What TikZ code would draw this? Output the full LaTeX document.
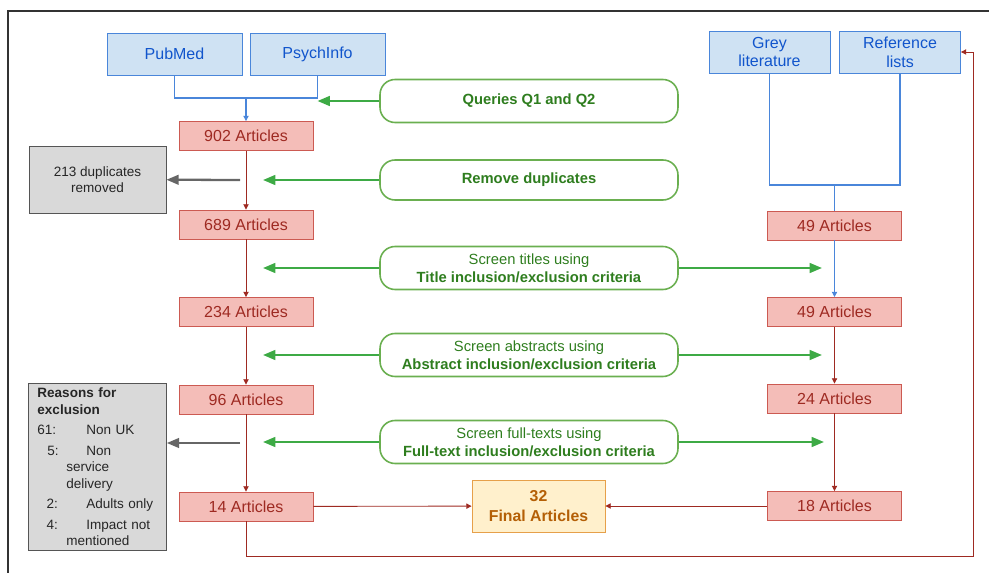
\documentclass[tikz,border=0pt]{standalone}
\usepackage{fontspec}
\setmainfont{Liberation Sans}
\usetikzlibrary{positioning}
\usetikzlibrary{arrows.meta}

\definecolor{srcfill}{HTML}{CFE2F3}
\definecolor{srcline}{HTML}{4A86DA}
\definecolor{srctext}{HTML}{1155CC}
\definecolor{artfill}{HTML}{F4BDB8}
\definecolor{artline}{HTML}{CC5A52}
\definecolor{arttext}{HTML}{9E2A22}
\definecolor{steptext}{HTML}{2E7D1E}
\definecolor{stepline}{HTML}{6AAF50}
\definecolor{steparrow}{HTML}{3DAA45}
\definecolor{outfill}{HTML}{D9D9D9}
\definecolor{outline}{HTML}{555555}
\definecolor{outarrow}{HTML}{666666}
\definecolor{finalfill}{HTML}{FFF0CC}
\definecolor{finalline}{HTML}{E6A04A}
\definecolor{finaltext}{HTML}{B45F06}

\tikzset{
  srcbox/.style={draw=srcline, fill=srcfill, text=srctext, line width=0.5pt,
    minimum width=2.7cm, minimum height=0.84cm, inner sep=0pt, align=center,
    font=\fontsize{9.1}{10.6}\selectfont},
  artbox/.style={draw=artline, fill=artfill, text=arttext, line width=0.5pt,
    minimum width=2.68cm, minimum height=0.58cm, inner sep=0pt,
    font=\fontsize{9.1}{11}\selectfont},
  stepbox/.style={draw=stepline, text=steptext, line width=0.9pt, rounded corners=0.3cm,
    minimum width=5.96cm, minimum height=0.86cm, inner sep=0pt, align=center,
    font=\fontsize{8.4}{10.2}\selectfont},
  outbox/.style={draw=outline, fill=outfill, text=black!85, line width=0.5pt,
    inner sep=0pt, align=center, font=\fontsize{7.7}{9.4}\selectfont},
  finalbox/.style={draw=finalline, fill=finalfill, text=finaltext, line width=0.5pt,
    minimum width=2.66cm, minimum height=1.04cm, inner sep=0pt, align=center,
    font=\bfseries\fontsize{9}{11}\selectfont},
  flow/.style={draw=arttext, line width=0.5pt, -{Triangle[length=3pt,width=3pt]}},
  srcflow/.style={draw=srcline, line width=0.6pt},
  stepflow/.style={draw=steparrow, line width=1.3pt, -{Triangle[length=7pt,width=5.5pt]}},
  outflow/.style={draw=outarrow, line width=1.3pt, -{Triangle[length=7pt,width=5.5pt]}}
}

\begin{document}
\begin{tikzpicture}[x=0.02cm, y=-0.02cm]
  \useasboundingbox (0,0) rectangle (989,573);
  \draw[black!80, line width=1.1pt] (8,573) -- (8,11) -- (989,11);

  % sources
  \node[srcbox] (pubmed) at (174.5,54) {PubMed};
  \node[srcbox] (psych) at (317.5,54) {PsychInfo};
  \node[srcbox, minimum width=2.42cm] (grey) at (769.5,52) {Grey\\literature};
  \node[srcbox, minimum width=2.42cm] (refs) at (900,52) {Reference\\lists};

  % steps
  \node[stepbox] (query) at (529,101) {\textbf{Queries Q1 and Q2}};
  \node[stepbox, minimum height=0.8cm] (dedup) at (529,180) {\textbf{Remove duplicates}};
  \node[stepbox] (title) at (529,268) {Screen titles using\\\textbf{Title inclusion/exclusion criteria}};
  \node[stepbox] (abstract) at (529,355) {Screen abstracts using\\\textbf{Abstract inclusion/exclusion criteria}};
  \node[stepbox] (fulltext) at (529,442) {Screen full-texts using\\\textbf{Full-text inclusion/exclusion criteria}};

  % left column
  \node[artbox] (a902) at (246,136) {902 Articles};
  \node[artbox] (a689) at (246,224.5) {689 Articles};
  \node[artbox] (a234) at (246,312) {234 Articles};
  \node[artbox] (a96) at (246,399.5) {96 Articles};
  \node[artbox] (a14) at (246,506.5) {14 Articles};

  % right column
  \node[artbox] (b49) at (834.5,225.5) {49 Articles};
  \node[artbox] (c49) at (834.5,312) {49 Articles};
  \node[artbox] (b24) at (834.5,398.5) {24 Articles};
  \node[artbox] (b18) at (834.5,506) {18 Articles};

  \node[finalbox] (final) at (538.5,506) {32\\Final Articles};

  % excluded
  \node[outbox, minimum width=2.74cm, minimum height=1.34cm] (dupout) at (97.5,179.5) {213 duplicates\\removed};
  \node[outbox, anchor=north west, minimum width=2.76cm, minimum height=3.34cm,
    inner xsep=0.18cm, text width=2.4cm, align=left] (reasons) at (28,383) {%
    \textbf{Reasons for}\\
    \textbf{exclusion}\\[2.2pt]
    \makebox[27.8pt][l]{61:}Non UK\\[2.2pt]
    \hspace*{5.7pt}\makebox[22.1pt][l]{5:}Non\\
    \hspace*{16.4pt}service\\
    \hspace*{16.4pt}delivery\\[2.2pt]
    \hspace*{5.2pt}\makebox[22.6pt][l]{2:}Adults only\\[2.2pt]
    \hspace*{5.2pt}\makebox[22.6pt][l]{4:}Impact not\\
    \hspace*{16.4pt}mentioned};

  % joins and free ends
  \coordinate (srcjoin) at (246,98);
  \coordinate (greyjoin) at (834.5,185);
  \coordinate (loopturn) at (973,556);
  \coordinate (queryend) at (317.5,101);
  \coordinate (dedupend) at (263,180);
  \coordinate (titleL) at (263,268);
  \coordinate (titleR) at (822,268);
  \coordinate (abstractL) at (263,355);
  \coordinate (abstractR) at (822,355);
  \coordinate (fulltextL) at (263,442);
  \coordinate (fulltextR) at (824,442);
  \coordinate (dupfrom) at (240,180);
  \coordinate (reasonsfrom) at (240,443);

  % sources to articles
  \draw[srcflow] (pubmed.south) |- (srcjoin) -| (psych.south);
  \draw[srcflow, -{Triangle[length=3pt,width=3pt]}] (srcjoin) -- (a902);
  \draw[srcflow] (grey.south) |- (greyjoin) -| (refs.south);
  \draw[srcflow] (greyjoin) -- (b49);
  \draw[srcflow, -{Triangle[length=3pt,width=3pt]}] (b49) -- (c49);

  % article flow
  \draw[flow] (a902) -- (a689);
  \draw[flow] (a689) -- (a234);
  \draw[flow] (a234) -- (a96);
  \draw[flow] (a96) -- (a14);
  \draw[flow] (c49) -- (b24);
  \draw[flow] (b24) -- (b18);
  \draw[flow] (a14) -- (final);
  \draw[flow] (b18) -- (final);
  \draw[flow] (a14.south) |- (loopturn) |- (refs.east);

  % step arrows
  \draw[stepflow] (query) -- (queryend);
  \draw[stepflow] (dedup) -- (dedupend);
  \draw[stepflow] (title) -- (titleL);
  \draw[stepflow] (title) -- (titleR);
  \draw[stepflow] (abstract) -- (abstractL);
  \draw[stepflow] (abstract) -- (abstractR);
  \draw[stepflow] (fulltext) -- (fulltextL);
  \draw[stepflow] (fulltext) -- (fulltextR);

  % removed
  \draw[outflow] (dupfrom) -- (dupout);
  \draw[outflow] (reasonsfrom) -- (reasons.east |- reasonsfrom);
\end{tikzpicture}
\end{document}
